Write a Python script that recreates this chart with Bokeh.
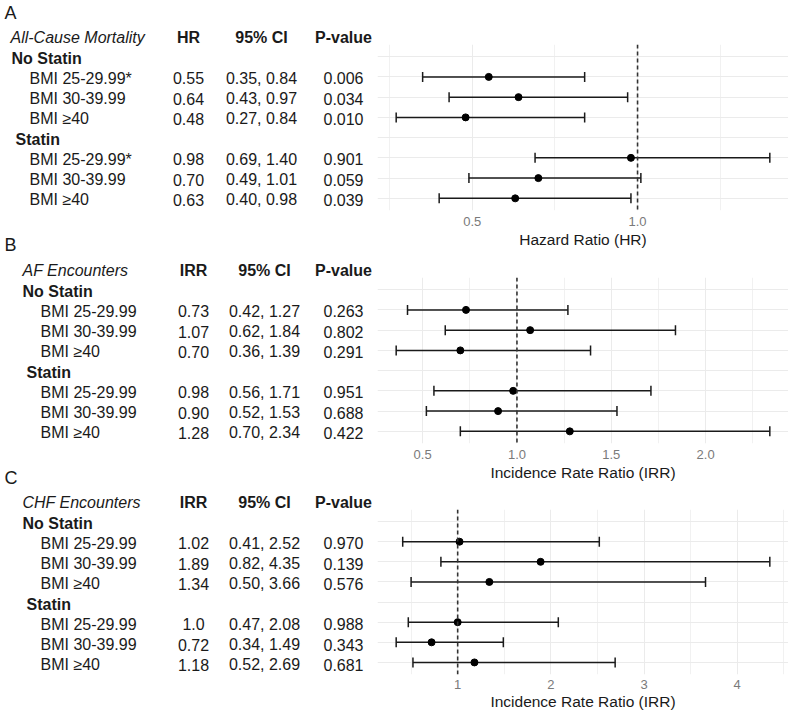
from bokeh.plotting import figure
from bokeh.models import (ColumnDataSource, Range1d, FixedTicker, Whisker, TeeHead,
                          Span, PrintfTickFormatter)
from bokeh.layouts import row, column
from bokeh.core.properties import value
from bokeh.embed import file_html
from bokeh.resources import INLINE

# ---------------- data ----------------
panel_letters = ["A", "B", "C"]
outcome_titles = ["All-Cause Mortality", "AF Encounters", "CHF Encounters"]
measure_headers = ["HR", "IRR", "IRR"]
ci_header = "95% CI"
p_header = "P-value"
axis_titles = ["Hazard Ratio (HR)", "Incidence Rate Ratio (IRR)", "Incidence Rate Ratio (IRR)"]
group_labels = ["No Statin", "Statin"]
bmi_labels_a = ["BMI 25-29.99*", "BMI 30-39.99", "BMI \u226540",
                "BMI 25-29.99*", "BMI 30-39.99", "BMI \u226540"]
bmi_labels_bc = ["BMI 25-29.99", "BMI 30-39.99", "BMI \u226540",
                 "BMI 25-29.99", "BMI 30-39.99", "BMI \u226540"]

# Panel A - all-cause mortality (HR)
a_est = [0.55, 0.64, 0.48, 0.98, 0.70, 0.63]
a_est_text = ["0.55", "0.64", "0.48", "0.98", "0.70", "0.63"]
a_lower = [0.35, 0.43, 0.27, 0.69, 0.49, 0.40]
a_upper = [0.84, 0.97, 0.84, 1.40, 1.01, 0.98]
a_pvalue = ["0.006", "0.034", "0.010", "0.901", "0.059", "0.039"]
a_ticks = [0.5, 1.0]
a_tick_labels = ["0.5", "1.0"]
a_minor = [0.25, 0.75, 1.25]

# Panel B - AF encounters (IRR)
b_est = [0.73, 1.07, 0.70, 0.98, 0.90, 1.28]
b_est_text = ["0.73", "1.07", "0.70", "0.98", "0.90", "1.28"]
b_lower = [0.42, 0.62, 0.36, 0.56, 0.52, 0.70]
b_upper = [1.27, 1.84, 1.39, 1.71, 1.53, 2.34]
b_pvalue = ["0.263", "0.802", "0.291", "0.951", "0.688", "0.422"]
b_ticks = [0.5, 1.0, 1.5, 2.0]
b_tick_labels = ["0.5", "1.0", "1.5", "2.0"]
b_minor = [0.75, 1.25, 1.75, 2.25]

# Panel C - CHF encounters (IRR)
c_est = [1.02, 1.89, 1.34, 1.0, 0.72, 1.18]
c_est_text = ["1.02", "1.89", "1.34", "1.0", "0.72", "1.18"]
c_lower = [0.41, 0.82, 0.50, 0.47, 0.34, 0.52]
c_upper = [2.52, 4.35, 3.66, 2.08, 1.49, 2.69]
c_pvalue = ["0.970", "0.139", "0.576", "0.988", "0.343", "0.681"]
c_ticks = [1, 2, 3, 4]
c_tick_labels = ["1", "2", "3", "4"]
c_minor = [0.5, 1.5, 2.5, 3.5, 4.5]

reference_value = 1.0

# row slots (discrete scale positions, top to bottom)
group_rows = [1, 5]
bmi_rows = [2, 3, 4, 6, 7, 8]
all_rows = [1, 2, 3, 4, 5, 6, 7, 8]
header_row = 0

# ---------------- layout / style ----------------
FONT = "Liberation Sans"
TXT = "#1a1a1a"
TABLE_W = 377
PLOT_W = 411
FRAME_H = 166
ROW_LO, ROW_HI = 0.4, 8.6
PX_PER_ROW = FRAME_H / (ROW_HI - ROW_LO)
TEXT_SHIFT = 1.5  # px, visual centring of table text on the rows

# plot column: top border, bottom border, label standoffs per panel
PLOT_TOP = [44, 27, 26]
PLOT_BOTTOM = [40, 40, 37]
TICK_STANDOFF = [6, 6, 5]
TITLE_STANDOFF = [2, 2, 1]
# table column: canvas heights and letter centre offset (px from canvas top)
TABLE_H = [236, 233, 243]
LETTER_Y = [12, 8, 8]

col_x = [
    dict(title=10, groups=[11, 15], bmi=29, c1=188, c2=261, c3=343),
    dict(title=22, groups=[22, 26], bmi=40, c1=193, c2=264, c3=343),
    dict(title=22, groups=[22, 26], bmi=40, c1=193, c2=264, c3=343),
]

panels = [
    (a_est, a_est_text, a_lower, a_upper, a_pvalue, a_ticks, a_tick_labels, a_minor, bmi_labels_a),
    (b_est, b_est_text, b_lower, b_upper, b_pvalue, b_ticks, b_tick_labels, b_minor, bmi_labels_bc),
    (c_est, c_est_text, c_lower, c_upper, c_pvalue, c_ticks, c_tick_labels, c_minor, bmi_labels_bc),
]


def txt(fig, x, y, text, align="left", style="normal", size="16px", color=TXT, yoff=TEXT_SHIFT):
    src = ColumnDataSource(dict(x=x, y=y, t=text))
    fig.text(x="x", y="y", text="t", source=src, text_font=value(FONT), text_font_size=size,
             text_font_style=style, text_align=align, text_baseline="middle",
             text_color=color, y_offset=yoff)


tables, plots = [], []
plot_top_page = 0
table_top_page = 0
for i, (est, est_text, lower, upper, pvals, ticks, tick_labels, minor, bmi_labels) in enumerate(panels):
    cx = col_x[i]
    p_height = PLOT_TOP[i] + FRAME_H + PLOT_BOTTOM[i]
    frame_top_page = plot_top_page + PLOT_TOP[i]

    # ---- table figure (left) : same row scale as the forest plot ----
    t_h = TABLE_H[i]
    y_top = ROW_LO + (table_top_page - frame_top_page) / PX_PER_ROW
    y_bot = ROW_LO + (table_top_page + t_h - frame_top_page) / PX_PER_ROW
    t = figure(width=TABLE_W, height=t_h, x_range=Range1d(0, TABLE_W),
               y_range=Range1d(y_bot, y_top), output_backend="svg", toolbar_location=None,
               x_axis_location=None, y_axis_location=None, min_border=0,
               outline_line_color=None)
    t.xgrid.grid_line_color = None
    t.ygrid.grid_line_color = None

    # panel letter
    txt(t, [4], [y_top + LETTER_Y[i] / PX_PER_ROW], [panel_letters[i]], size="18px", yoff=0)
    # header row
    txt(t, [cx["title"]], [header_row], [outcome_titles[i]], style="italic")
    txt(t, [cx["c1"], cx["c2"], cx["c3"]], [header_row] * 3,
        [measure_headers[i], ci_header, p_header], align="center", style="bold")
    # group rows
    txt(t, cx["groups"], group_rows, group_labels, style="bold")
    # bmi rows
    ci_text = [f"{lo:.2f}, {hi:.2f}" for lo, hi in zip(lower, upper)]
    txt(t, [cx["bmi"]] * len(bmi_rows), bmi_rows, bmi_labels)
    txt(t, [cx["c1"]] * len(bmi_rows), bmi_rows, est_text, align="center")
    txt(t, [cx["c2"]] * len(bmi_rows), bmi_rows, ci_text, align="center")
    txt(t, [cx["c3"]] * len(bmi_rows), bmi_rows, pvals, align="center")
    tables.append(t)

    # ---- forest plot (right) ----
    lo_d, hi_d = min(lower), max(upper)
    pad = 0.05 * (hi_d - lo_d)
    p = figure(width=PLOT_W, height=p_height, x_range=Range1d(lo_d - pad, hi_d + pad),
               y_range=Range1d(ROW_HI, ROW_LO), output_backend="svg", toolbar_location=None,
               y_axis_location=None, min_border_left=0, min_border_right=0,
               min_border_top=PLOT_TOP[i], min_border_bottom=PLOT_BOTTOM[i],
               outline_line_color=None)

    p.xaxis.ticker = FixedTicker(ticks=ticks, minor_ticks=minor)
    p.xaxis.formatter = PrintfTickFormatter(format="%d" if i == 2 else "%.1f")
    p.xaxis.major_label_overrides = {tk: lb for tk, lb in zip(ticks, tick_labels)}
    p.xaxis.axis_label = axis_titles[i]
    p.xaxis.axis_label_text_font = FONT
    p.xaxis.axis_label_text_font_size = "15.5px"
    p.xaxis.axis_label_text_font_style = "normal"
    p.xaxis.axis_label_text_color = TXT
    p.xaxis.axis_label_standoff = TITLE_STANDOFF[i]
    p.xaxis.major_label_standoff = TICK_STANDOFF[i]
    p.xaxis.major_label_text_font = FONT
    p.xaxis.major_label_text_font_size = "13px"
    p.xaxis.major_label_text_color = "#7a7a7a"
    p.xaxis.axis_line_color = None
    p.xaxis.major_tick_line_color = None
    p.xaxis.minor_tick_line_color = None
    p.xaxis.major_tick_out = 0
    p.xaxis.minor_tick_out = 0
    p.xaxis.major_tick_in = 0
    p.xaxis.minor_tick_in = 0

    p.xgrid.grid_line_color = "#EBEBEB"
    p.xgrid.grid_line_width = 1
    p.xgrid.minor_grid_line_color = "#F1F1F1"
    p.xgrid.minor_grid_line_width = 1
    p.ygrid.ticker = FixedTicker(ticks=all_rows)
    p.ygrid.grid_line_color = "#EBEBEB"
    p.ygrid.grid_line_width = 1

    src = ColumnDataSource(dict(row=bmi_rows, est=est, lo=lower, hi=upper))
    p.add_layout(Span(location=reference_value, dimension="height", line_color="#333333",
                      line_width=1.6, line_dash="4 3"))
    p.add_layout(Whisker(source=src, base="row", lower="lo", upper="hi", dimension="width",
                         line_color="#1a1a1a", line_width=1.5,
                         lower_head=TeeHead(size=10, line_color="#1a1a1a", line_width=1.5),
                         upper_head=TeeHead(size=10, line_color="#1a1a1a", line_width=1.5)))
    p.scatter(x="est", y="row", source=src, size=7, color="black", level="annotation")
    plots.append(p)

    plot_top_page += p_height
    table_top_page += t_h

layout = row(column(*tables), column(*plots))

open("out.html", "w").write(file_html(layout, INLINE))
